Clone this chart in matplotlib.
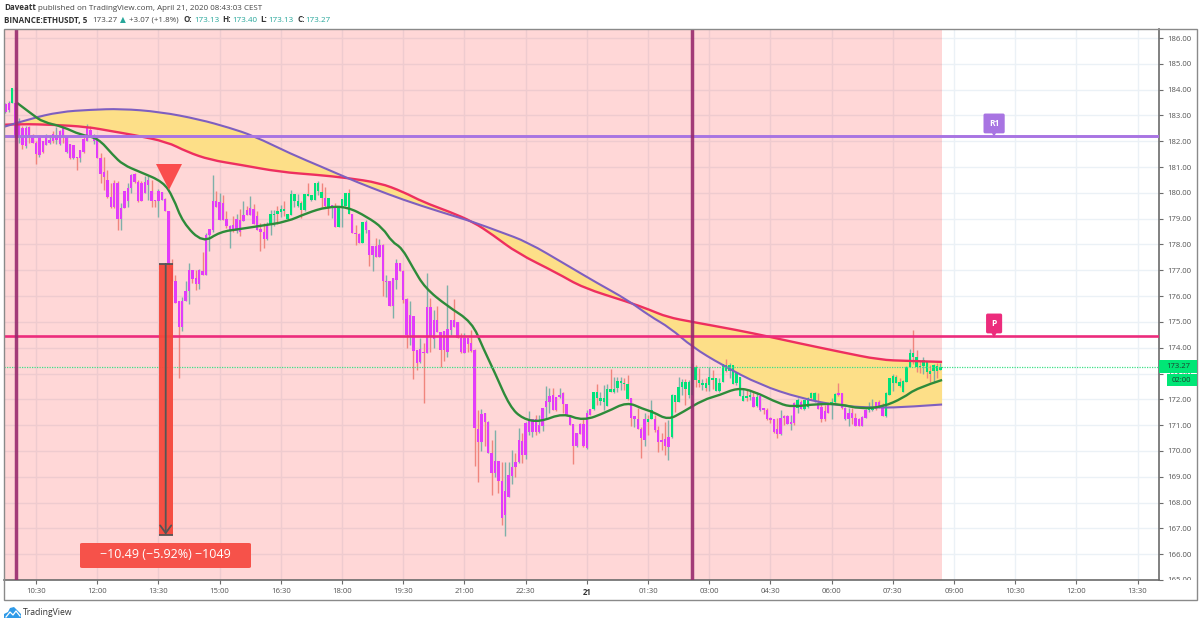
import matplotlib
matplotlib.use("Agg")
from matplotlib import pyplot as plt
from matplotlib.patches import Rectangle, FancyBboxPatch, Polygon, PathPatch
from matplotlib.path import Path
from matplotlib.transforms import Bbox

plt.rcParams['font.family'] = ['Open Sans', 'DejaVu Sans']

# candles, one bar per 5 minutes, first bar is number -9 (bar 0 = 10:30)
body_top = [
    183.45, 183.5, 184.05, 183.5, 182.7, 182.5, 182.5, 182.55, 182.25, 181.95,
    182.2, 182.0, 182.2, 182.05, 182.3, 182.25, 182.4, 182.5, 182.2, 181.9,
    181.85, 181.4, 181.65, 182.1, 182.5, 182.45, 182.25, 182.15, 181.35, 180.8,
    180.5, 179.85, 180.4, 180.4, 179.4, 180.06, 180.18, 180.68, 180.73, 180.42,
    180.38, 180.42, 180.51, 180.08, 179.73, 180.06, 180.02, 179.76, 179.3, 177.08,
    176.6, 175.8, 175.82, 176.2, 177.0, 177.0, 176.7, 177.0, 176.98, 178.35,
    178.6, 179.7, 179.67, 179.64, 179.6, 179.0, 178.73, 178.74, 178.98, 178.95,
    179.15, 179.35, 179.4, 179.38, 179.1, 178.6, 178.5, 178.74, 179.19, 179.2,
    179.28, 179.38, 179.38, 179.2, 179.97, 179.97, 179.69, 179.6, 179.97, 179.97,
    179.93, 180.38, 180.38, 180.05, 179.79, 179.79, 179.53, 179.4, 179.43, 179.75,
    179.99, 179.99, 179.18, 178.43, 178.41, 178.89, 178.89, 178.56, 177.94, 177.94,
    177.98, 177.98, 176.6, 176.6, 176.7, 177.27, 177.27, 176.97, 175.88, 175.27,
    175.24, 173.91, 173.95, 173.85, 175.59, 175.59, 175.08, 175.08, 174.62, 174.65,
    174.73, 175.08, 175.08, 175.01, 174.39, 174.37, 174.37, 174.17, 173.91, 170.85,
    171.42, 171.46, 171.14, 169.94, 169.62, 169.62, 168.85, 168.43, 169.07, 169.37,
    169.59, 170.43, 170.4, 171.1, 171.2, 171.23, 171.23, 171.01, 171.66, 171.95,
    172.13, 172.15, 172.11, 172.16, 172.24, 171.82, 171.4, 171.04, 170.69, 171.04,
    171.04, 171.46, 171.62, 172.28, 172.28, 172.04, 172.04, 172.41, 172.41, 172.39,
    172.73, 172.72, 172.65, 172.6, 172.04, 171.36, 171.22, 170.85, 171.22, 171.22,
    171.58, 171.22, 170.81, 170.42, 170.45, 170.53, 172.17, 172.17, 172.46, 172.68,
    172.68, 172.68, 173.26, 173.24, 172.75, 172.62, 172.62, 172.85, 172.81, 172.81,
    172.64, 173.37, 173.33, 173.33, 173.33, 173.01, 172.85, 172.14, 172.14, 172.17,
    172.1, 172.1, 172.13, 171.65, 171.58, 171.26, 171.24, 170.85, 171.26, 171.35,
    171.35, 171.13, 171.84, 171.97, 171.91, 171.97, 172.06, 172.23, 172.26, 171.87,
    171.71, 171.56, 171.78, 171.91, 172.19, 172.23, 172.23, 171.65, 171.48, 171.48,
    171.26, 171.22, 171.33, 171.58, 171.65, 171.69, 171.91, 171.91, 171.78, 172.26,
    172.81, 172.9, 172.88, 172.68, 172.72, 173.26, 173.81, 173.81, 173.65, 173.29,
    173.52, 173.46, 173.11, 173.33, 173.29, 173.27,
]
body_bottom = [
    183.15, 183.2, 183.5, 182.2, 182.2, 181.85, 181.8, 182.2, 181.95, 181.5,
    181.45, 181.6, 181.85, 181.95, 182.0, 182.05, 181.9, 182.2, 181.6, 181.37,
    181.35, 181.35, 181.35, 181.6, 182.0, 182.25, 182.0, 181.35, 180.75, 180.6,
    179.85, 179.45, 179.45, 179.0, 179.0, 179.41, 179.67, 180.18, 180.42, 179.67,
    179.69, 179.99, 180.31, 179.69, 179.67, 179.69, 179.73, 179.3, 177.2, 176.6,
    175.75, 174.8, 174.82, 175.82, 176.2, 176.67, 176.46, 176.46, 176.8, 176.83,
    178.35, 178.57, 179.47, 178.96, 178.96, 178.7, 178.55, 178.53, 178.53, 178.5,
    178.9, 179.15, 179.15, 178.8, 178.57, 178.48, 178.22, 178.22, 178.74, 179.15,
    179.19, 179.25, 179.28, 179.0, 179.15, 179.67, 179.5, 179.32, 179.32, 179.86,
    179.71, 179.73, 180.06, 179.79, 179.49, 179.47, 179.4, 178.69, 178.69, 179.4,
    179.5, 179.18, 178.43, 178.41, 178.07, 178.07, 178.56, 177.6, 177.6, 177.5,
    177.53, 176.59, 176.55, 175.6, 175.6, 176.63, 176.97, 175.85, 174.5, 174.5,
    173.87, 173.4, 173.44, 173.81, 173.78, 174.43, 174.34, 174.62, 173.91, 173.91,
    173.85, 174.69, 174.82, 174.37, 173.85, 173.81, 174.15, 173.87, 170.88, 170.36,
    170.36, 171.14, 169.94, 169.16, 169.16, 168.85, 167.42, 167.5, 168.23, 169.03,
    169.37, 169.59, 169.85, 169.85, 170.75, 170.75, 170.75, 170.75, 170.95, 171.7,
    171.88, 171.59, 171.59, 172.11, 171.82, 171.4, 171.01, 170.2, 170.2, 170.66,
    170.2, 170.11, 171.4, 171.62, 172.04, 171.94, 171.91, 171.76, 172.3, 172.3,
    172.43, 172.65, 172.59, 172.02, 171.27, 171.24, 170.85, 170.49, 170.42, 171.13,
    171.22, 170.81, 170.36, 170.36, 170.19, 170.16, 170.53, 171.91, 171.91, 172.46,
    172.42, 172.17, 172.17, 172.75, 172.64, 172.55, 172.45, 172.55, 172.75, 172.33,
    172.33, 172.66, 173.11, 173.11, 172.58, 172.62, 172.14, 171.95, 172.04, 172.1,
    171.71, 171.74, 171.58, 171.58, 171.24, 171.2, 170.72, 170.65, 170.65, 171.26,
    171.04, 171.04, 171.07, 171.65, 171.61, 171.61, 171.71, 172.04, 171.95, 171.62,
    171.22, 171.22, 171.46, 171.82, 171.91, 172.17, 171.65, 171.22, 171.22, 171.26,
    170.96, 170.96, 170.96, 171.29, 171.58, 171.58, 171.61, 171.71, 171.35, 171.35,
    172.17, 172.62, 172.62, 172.51, 172.29, 172.68, 173.24, 173.63, 173.26, 173.26,
    173.29, 173.07, 173.0, 173.11, 173.11, 173.13,
]
wick_high = [
    183.5, 183.55, 184.05, 184.1, 182.9, 182.6, 182.6, 182.6, 182.3, 182.0,
    182.2, 182.0, 182.3, 182.2, 182.4, 182.55, 182.45, 182.6, 182.2, 181.9,
    181.85, 181.4, 181.65, 182.2, 182.65, 182.6, 182.3, 182.2, 181.55, 181.4,
    180.9, 180.4, 180.5, 180.45, 179.6, 180.06, 180.38, 180.73, 180.77, 180.5,
    180.45, 180.64, 180.64, 180.51, 179.73, 180.16, 180.02, 179.8, 179.3, 177.45,
    176.8, 175.8, 175.95, 176.6, 177.3, 177.0, 177.0, 177.05, 177.7, 178.44,
    178.6, 180.7, 180.08, 180.0, 179.93, 179.28, 178.74, 179.09, 179.2, 179.37,
    179.67, 179.5, 179.86, 179.57, 179.28, 178.83, 178.83, 178.87, 179.35, 179.35,
    179.51, 179.54, 179.67, 179.2, 180.12, 179.97, 179.97, 179.69, 179.97, 180.38,
    179.93, 180.38, 180.47, 180.37, 180.24, 179.79, 179.53, 179.6, 179.43, 179.75,
    179.99, 180.14, 179.18, 178.76, 178.43, 178.89, 178.95, 178.56, 177.94, 178.24,
    178.2, 178.02, 176.81, 176.6, 176.7, 177.43, 177.27, 177.01, 175.92, 175.82,
    175.24, 173.91, 174.37, 174.2, 176.9, 175.92, 175.46, 175.6, 174.62, 174.65,
    176.43, 175.08, 175.88, 175.01, 174.59, 174.59, 174.37, 174.69, 173.95, 171.59,
    171.62, 171.49, 171.17, 170.43, 170.82, 169.62, 169.59, 169.59, 169.59, 170.04,
    169.91, 170.9, 170.71, 171.11, 171.53, 171.23, 171.4, 171.4, 171.66, 172.5,
    172.43, 172.43, 172.11, 172.43, 172.28, 171.82, 171.4, 171.04, 170.69, 171.07,
    171.27, 171.59, 171.62, 172.28, 172.6, 172.28, 172.56, 172.6, 173.17, 172.88,
    172.88, 172.88, 172.82, 172.95, 172.04, 171.36, 171.65, 170.94, 171.46, 171.39,
    171.97, 171.39, 170.96, 170.68, 171.13, 171.2, 172.19, 172.17, 172.85, 172.77,
    172.77, 172.75, 173.39, 173.33, 173.2, 172.77, 172.81, 173.24, 173.13, 172.81,
    172.81, 173.37, 173.55, 173.39, 173.33, 173.07, 172.85, 172.42, 172.42, 172.36,
    172.3, 172.3, 172.13, 171.65, 171.65, 171.33, 171.24, 171.26, 171.58, 171.39,
    171.39, 171.39, 171.91, 172.04, 171.97, 171.97, 172.1, 172.3, 172.3, 172.23,
    171.84, 171.78, 171.87, 172.04, 172.23, 172.62, 172.26, 171.69, 171.65, 171.65,
    171.46, 171.26, 171.35, 171.61, 171.91, 172.0, 171.91, 171.97, 171.84, 172.3,
    172.81, 172.98, 172.94, 172.81, 172.75, 173.29, 173.95, 174.7, 173.91, 173.52,
    173.65, 173.46, 173.33, 173.37, 173.42, 173.4,
]
wick_low = [
    183.1, 183.15, 183.5, 182.1, 181.95, 181.7, 181.75, 181.95, 181.95, 181.1,
    181.4, 181.55, 181.85, 181.9, 181.95, 181.9, 181.85, 181.95, 181.55, 181.3,
    181.3, 180.9, 181.2, 181.55, 182.0, 182.2, 181.9, 181.35, 180.4, 180.1,
    179.8, 179.4, 179.4, 178.55, 178.55, 179.41, 179.47, 179.99, 180.38, 179.65,
    179.67, 179.99, 179.73, 179.47, 179.44, 179.05, 179.73, 179.3, 177.1, 176.6,
    175.75, 172.82, 174.63, 175.8, 175.7, 176.5, 176.25, 176.27, 176.8, 176.8,
    177.73, 178.5, 179.45, 178.96, 178.96, 178.63, 177.86, 178.5, 178.44, 178.31,
    178.9, 179.15, 179.15, 178.8, 178.57, 177.76, 177.86, 178.18, 178.38, 178.7,
    178.79, 179.05, 179.09, 178.96, 179.15, 179.47, 179.47, 179.02, 179.28, 179.86,
    179.67, 179.73, 179.93, 179.47, 179.47, 179.15, 179.02, 178.69, 178.69, 178.69,
    179.5, 179.18, 178.43, 177.98, 178.07, 178.07, 178.43, 177.17, 176.98, 177.5,
    177.5, 176.0, 175.98, 175.6, 175.17, 176.27, 176.97, 175.72, 173.98, 174.1,
    172.8, 173.14, 173.4, 171.85, 173.78, 173.85, 173.98, 174.62, 173.27, 173.5,
    173.65, 174.5, 174.82, 174.37, 173.81, 173.78, 173.85, 173.85, 169.42, 168.78,
    169.98, 170.2, 169.94, 168.3, 169.01, 168.36, 167.13, 166.71, 168.23, 168.72,
    169.01, 169.53, 169.53, 169.69, 170.62, 170.56, 170.62, 170.69, 170.79, 171.27,
    171.46, 171.59, 171.53, 172.04, 171.46, 171.4, 171.01, 169.5, 170.15, 170.66,
    170.17, 170.07, 171.4, 171.59, 171.79, 171.79, 171.57, 171.76, 172.28, 172.24,
    172.28, 172.37, 172.37, 171.98, 170.97, 170.94, 170.84, 169.71, 170.19, 170.62,
    171.22, 170.74, 169.97, 170.03, 169.84, 169.65, 170.49, 171.52, 171.91, 172.17,
    171.78, 172.04, 172.17, 172.49, 172.49, 172.36, 172.33, 172.33, 172.42, 172.33,
    172.3, 172.66, 173.07, 172.81, 172.58, 172.55, 172.14, 171.95, 171.95, 171.97,
    171.69, 171.71, 171.56, 171.45, 171.2, 171.07, 170.68, 170.52, 170.62, 171.0,
    171.04, 170.81, 171.0, 171.46, 171.61, 171.58, 171.65, 171.97, 171.91, 171.62,
    171.13, 171.17, 171.46, 171.22, 171.84, 172.13, 171.61, 171.2, 170.96, 171.04,
    170.96, 170.96, 170.96, 171.26, 171.52, 171.54, 171.58, 171.65, 171.35, 171.32,
    172.17, 172.33, 172.62, 172.46, 172.29, 172.68, 173.24, 173.37, 173.07, 173.03,
    172.98, 172.81, 172.68, 172.68, 172.81, 173.13,
]
wick_kind = (
    "tttrtrtrrr" "trttrttrtr" "trtrtrtrrr" "rrrrtrttrr" "rttrrttrrr"
    "rrtttrrtrt" "ttrtrrtrtr" "trtrrrrttt" "rtrrtttrtr" "tttrrrtrtt"
    "trrrrttrtr" "trtrttrrrt" "rrtrtrtrrr" "ttrrrtrrrr" "trtrtrrttt"
    "rtrtttrttt" "trrtrrrrtr" "rtrtrtttrt" "ttrrrtrrtr" "trrrrttrtt"
    "rttrrtrtrt" "ttrtrtttrt" "rttrrrrrtr" "ttrtrttrtr" "rrrttrrttr"
    "rrttttrrrt" "ttrrtttrrr" "trrtrt"
)
body_kind = (
    "mmgmmmmmmm" "mmmmmmmmmm" "mmmmmmmmmm" "mmmmmmmmmm" "mmmmmmmmmm"
    "mmmmmmmmmm" "mmmmmmmmmm" "mmmmmmmmgg" "gggggggggg" "ggggmgmmgg"
    "ggmmmgmmmm" "mmmmmmmmmm" "mmmmmmmmmm" "mmmmmmmmmm" "mmmmmmmmmm"
    "mmmmmmmmmm" "mmmmmmmmmm" "mmmggggggg" "ggggmmmmmg" "gmmmmmgggg"
    "gggggggggg" "gggggggggg" "mgmmmmmmmm" "mmmgmggggm" "mmmggmmmmm"
    "mmmmggmmmg" "gggggggggg" "gggggg"
)

# moving averages
slow_x = [-9.4, -1.8, 7, 16, 25, 36.5, 48, 57, 64, 75, 84, 91.5, 98, 108, 119, 128.5,
          136.5, 144.5, 156, 165, 174, 180.5, 186.5, 193, 201.8, 213, 224.7, 236.5,
          248, 257, 266.5]
slow_ma = [182.56, 182.87, 183.14, 183.22, 183.26, 183.14, 182.85, 182.52, 182.21,
           181.51, 181.01, 180.58, 180.23, 179.73, 179.26, 178.88, 178.49, 178.1,
           177.21, 176.51, 175.85, 175.23, 174.77, 174.03, 173.33, 172.56, 172.05,
           171.74, 171.67, 171.71, 171.8]
mid_x = [-9.4, -4.7, 5, 15, 21.8, 28.5, 38.5, 44.4, 51.2, 60, 71.8, 82.6, 91.5, 101,
         108, 113.8, 121.8, 128.5, 134.4, 141.5, 153.2, 160.9, 174, 180.5, 185.6, 193,
         206, 215.9, 223.8, 236.5, 248.2, 256.2, 266.5]
mid_ma = [182.64, 182.67, 182.64, 182.56, 182.4, 182.25, 181.98, 181.59, 181.28,
          181.09, 180.81, 180.7, 180.58, 180.39, 180.04, 179.65, 179.26, 178.88,
          178.37, 177.67, 176.9, 176.32, 175.78, 175.47, 175.19, 175.0, 174.69,
          174.42, 174.19, 173.84, 173.53, 173.49, 173.45]
fast_x = [-5.6, -0.9, 2, 8, 13, 18.2, 22.6, 25.6, 30.6, 37.4, 40.3, 43.2, 49.1,
          54.1, 60, 65.9, 73.8, 79.7, 85.6, 91.5, 97.4, 102, 104.7, 107.6, 110.9,
          114.4, 120.9, 128.2, 131.5, 135, 139.4, 143.2, 148.2, 155, 160.9, 167.9,
          173.8, 178.5, 181.5, 185.9, 190.3, 196.2, 201.2, 206.2, 210.9, 218.8, 222.6,
          229.7, 236.5, 242.4, 249.1, 255, 259.1, 266.5]
fast_ma = [183.49, 183.02, 182.75, 182.56, 182.25, 182.13, 181.47, 181.09,
           180.81, 180.43, 179.84, 178.84, 178.06, 178.49, 178.6, 178.72, 178.88,
           179.22, 179.46, 179.46, 179.07, 178.64, 178.1, 177.87, 177.09, 176.32,
           175.62, 175.0, 173.99, 173.02, 171.71, 171.24, 171.12, 171.47, 171.16,
           171.51, 171.9, 171.63, 171.51, 171.2, 171.51, 171.98, 172.17, 172.44,
           172.33, 171.82, 171.71, 171.82, 171.82, 171.63, 171.71, 172.05, 172.44,
           172.75]

# levels and axes labels
r1_level = 182.21
pivot_level = 174.46
last_price = 173.27
drop_top = 177.25
drop_bottom = 166.76
price_ticks = list(range(165, 187))
time_ticks = [0, 18, 36, 54, 72, 90, 108, 126, 144, 162, 180, 198, 216, 234, 252, 270, 288, 306, 324]
time_labels = ["10:30", "12:00", "13:30", "15:00", "16:30", "18:00", "19:30", "21:00", "22:30",
               "21", "01:30", "03:00", "04:30", "06:00", "07:30", "09:00", "10:30", "12:00", "13:30"]

W, H = 1200, 625
GREY = "#6b6b6b"
TEXT_SIZE = 5.8


def fx(x):
    return x / W


def fy(y):
    return 1 - y / H


def curve_steps(xs, ys):
    # quadratic pieces: each read point is a control point, so the line bends softly through it
    verts = []
    codes = []
    for i in range(1, len(xs) - 1):
        end = (xs[i + 1], ys[i + 1])
        if i < len(xs) - 2:
            end = ((xs[i] + xs[i + 1]) / 2, (ys[i] + ys[i + 1]) / 2)
        verts += [(xs[i], ys[i]), end]
        codes += [Path.CURVE3, Path.CURVE3]
    return verts, codes


def smooth_line(xs, ys):
    verts, codes = curve_steps(xs, ys)
    return Path([(xs[0], ys[0])] + verts, [Path.MOVETO] + codes)


def smooth_band(xs1, ys1, xs2, ys2):
    verts1, codes1 = curve_steps(xs1, ys1)
    verts2, codes2 = curve_steps(xs2[::-1], ys2[::-1])
    verts = [(xs1[0], ys1[0])] + verts1 + [(xs2[-1], ys2[-1])] + verts2 + [(xs1[0], ys1[0])]
    codes = [Path.MOVETO] + codes1 + [Path.LINETO] + codes2 + [Path.CLOSEPOLY]
    return Path(verts, codes)


fig = plt.figure(figsize=(W / 100, H / 100), dpi=100, facecolor="white")
ax = fig.add_axes([fx(4), fy(580), (1159 - 4) / W, (580 - 29) / H])
ax.set_xlim(-9.41, 330.3)
ax.set_ylim(165, 186.35)
ax.set_axisbelow(True)
ax.grid(True, color="#ebf1f6", linewidth=1.0)

ax.axvspan(-9.41, 266.5, color="#ff0000", alpha=0.155, linewidth=0, zorder=1)
ax.add_patch(PathPatch(smooth_band(mid_x, mid_ma, slow_x, slow_ma), facecolor="#fddf88",
                       edgecolor="none", zorder=1.5))

# candles
for n in range(len(body_top)):
    bar = n - 9
    wick_color = "#f0857d" if wick_kind[n] == "r" else "#7eb0a9"
    body_color = "#e23cfa" if body_kind[n] == "m" else "#00e27a"
    ax.vlines(bar, wick_low[n], wick_high[n], color=wick_color, linewidth=1.0, zorder=2)
    ax.bar(bar, body_top[n] - body_bottom[n], bottom=body_bottom[n], width=0.72,
           color=body_color, linewidth=0, zorder=2.2)

for xs, ys, color, width, z in ((mid_x, mid_ma, "#ee2f5f", 1.7, 3),
                                (slow_x, slow_ma, "#7e5fc0", 1.5, 3.1),
                                (fast_x, fast_ma, "#2e8b3a", 1.7, 3.2)):
    ax.add_patch(PathPatch(smooth_line(xs, ys), fill=False, edgecolor=color, linewidth=width, zorder=z))

ax.axhline(r1_level, color="#a874e2", linewidth=2.1, zorder=3.4)
ax.axhline(pivot_level, color="#ec2c7c", linewidth=1.9, zorder=3.4)
ax.axhline(last_price, color="#3fe08a", linewidth=0.9, linestyle=(0, (1, 1)), zorder=3.4)

ax.axvline(-6, color="#982a6e", linewidth=2.5, alpha=0.9, zorder=4)
ax.axvline(193, color="#982a6e", linewidth=2.5, alpha=0.9, zorder=4)

# short entry and measured drop
ax.plot([39], [180.6], marker="v", markersize=19, color="#fa4d4d", markeredgewidth=0, zorder=5)
ax.bar(38.15, drop_top - drop_bottom, bottom=drop_bottom, width=4.1, color="#f5473a",
       alpha=0.95, linewidth=0, zorder=5)
ax.annotate("", xy=(38.15, drop_bottom), xytext=(38.15, drop_top), zorder=5.2,
            arrowprops=dict(arrowstyle="->,head_length=0.55,head_width=0.4", color="#555555",
                            linewidth=1.3, shrinkA=0, shrinkB=0))
ax.hlines([drop_top, drop_bottom], 36.1, 40.2, color="#555555", linewidth=1.3, zorder=5.2)

# pivot tags
for label, level, face in (("R1", r1_level, "#a874e2"), ("P", pivot_level, "#ec2c7c")):
    ax.plot([281.8], [level + 0.13], marker="v", markersize=7, color=face, markeredgewidth=0, zorder=6)
    ax.text(281.8, level + 0.48, label, color="white", fontsize=6, fontweight="bold",
            ha="center", va="center", zorder=6,
            bbox=dict(boxstyle="round,pad=0.65,rounding_size=0.2", fc=face, ec="none"))

# axes
for side in ("top", "left"):
    ax.spines[side].set_visible(False)
for side in ("right", "bottom"):
    ax.spines[side].set_color(GREY)
    ax.spines[side].set_linewidth(1.2)
ax.yaxis.tick_right()
ax.set_yticks(price_ticks)
ax.set_yticklabels(["%.2f" % p for p in price_ticks])
ax.set_xticks(time_ticks)
ax.set_xticklabels(time_labels)
ax.tick_params(axis="both", length=3, width=0.8, color=GREY, labelcolor="#555555", labelsize=5.6, pad=3)
for label in ax.get_xticklabels():
    if label.get_text() == "21":
        label.set_fontweight("bold")
        label.set_color("#333333")
# bottom price label is cut by the time axis
ax.get_yticklabels()[0].set_clip_box(Bbox([[1150, 45], [1200, 625]]))
ax.get_yticklabels()[0].set_clip_on(True)

# frame round the whole widget
fig.add_artist(Rectangle((fx(4), fy(600)), (1197 - 4) / W, (600 - 29) / H, transform=fig.transFigure,
                         fill=False, edgecolor="#8a8a8a", linewidth=1.0))

# last price tags
fig.add_artist(Rectangle((fx(1159), fy(373)), 38 / W, 13 / H, transform=fig.transFigure,
                         facecolor="#00e676", edgecolor="none"))
fig.add_artist(Rectangle((fx(1167), fy(386)), 30 / W, 12.5 / H, transform=fig.transFigure,
                         facecolor="#00e676", edgecolor="none"))
fig.text(fx(1178), fy(366.5), "173.27", color="#1f3d30", fontsize=5.6, ha="center", va="center")
fig.text(fx(1181), fy(380.5), "02:00", color="#1f3d30", fontsize=5.6, ha="center", va="center")

# measure label
fig.add_artist(FancyBboxPatch((fx(80), fy(568)), 171 / W, 25 / H, transform=fig.transFigure,
                              boxstyle="round,pad=0,rounding_size=0.002", facecolor="#f6524a",
                              edgecolor="none"))
fig.text(fx(165.5), fy(555), "\u221210.49 (\u22125.92%) \u22121049", color="white", fontsize=9,
         fontweight="medium", ha="center", va="center")

# header
head_y = fy(8)
info_y = fy(20)
fig.text(fx(4), head_y, "Daveatt", fontsize=TEXT_SIZE, fontweight="bold", color="#333333", va="center")
fig.text(fx(38), head_y, "published on TradingView.com, April 21, 2020 08:43:03 CEST", fontsize=TEXT_SIZE,
         color="#444444", va="center")
fig.text(fx(4), info_y, "BINANCE:ETHUSDT, 5", fontsize=TEXT_SIZE, fontweight="bold", color="#333333", va="center")
fig.text(fx(92), info_y, "173.27", fontsize=TEXT_SIZE, color="#444444", va="center")
fig.text(fx(120), info_y, "\u25b2", fontsize=5.5, color="#26a69a", va="center", family="DejaVu Sans")
fig.text(fx(129), info_y, "+3.07 (+1.8%)", fontsize=TEXT_SIZE, color="#444444", va="center")
for key_x, key, val_x, val in ((184, "O:", 194, "173.13"), (222, "H:", 232, "173.40"),
                               (260, "L:", 268, "173.13"), (297, "C:", 305, "173.27")):
    fig.text(fx(key_x), info_y, key, fontsize=TEXT_SIZE, fontweight="bold", color="#333333", va="center")
    fig.text(fx(val_x), info_y, val, fontsize=TEXT_SIZE, color="#26a69a", va="center")

# footer logo
cloud = [(4, 618), (4, 614), (8, 612), (10, 608), (14, 607), (18, 611), (21, 614), (21, 618)]
fig.add_artist(Polygon([(fx(x), fy(y)) for x, y in cloud], closed=True, transform=fig.transFigure,
                       facecolor="#2f9ae8", edgecolor="none"))
zigzag = [(6, 617), (10, 612), (13, 615), (16, 611), (20, 616)]
fig.add_artist(plt.Line2D([fx(x) for x, y in zigzag], [fy(y) for x, y in zigzag],
                          transform=fig.transFigure, color="white", linewidth=0.9))
fig.text(fx(23), fy(612.5), "TradingView", fontsize=6.2, color="#333333", va="center")

fig.savefig("out.png", dpi=100)
